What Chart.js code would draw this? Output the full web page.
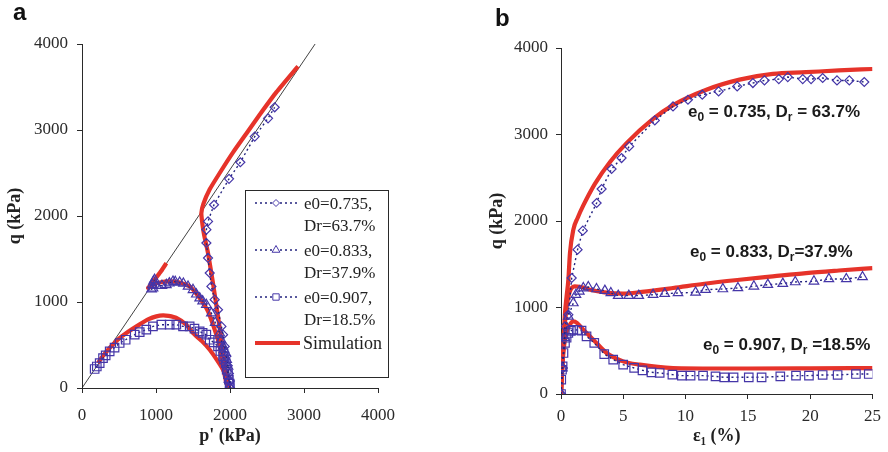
<!DOCTYPE html>
<html>
<head>
<meta charset="utf-8">
<script src="https://cdn.jsdelivr.net/npm/chart.js@4.4.1/dist/chart.umd.min.js"></script>
<style>
  body { margin: 0; background: #fff; }
  #page { position: relative; width: 888px; height: 452px; overflow: hidden; }
  canvas { position: absolute; top: 0; }
  #chartA { left: 0; }
  #chartB { left: 444px; }
</style>
</head>
<body>
<div id="page">
  <canvas id="chartA" width="444" height="452"></canvas>
  <canvas id="chartB" width="444" height="452"></canvas>
</div>
<script>
// ---- data, panel a: p' - q ----
const axisTicks = [0, 1000, 2000, 3000, 4000];
const strainTicks = [0, 5, 10, 15, 20, 25];
const seriesNames = ['e0=0.735,|Dr=63.7%', 'e0=0.833,|Dr=37.9%', 'e0=0.907,|Dr=18.5%', 'Simulation'];

const cslP = [0, 3150];
const cslQ = [0, 4000];

const denseObsP = [2000, 1998, 1985, 1970, 1950, 1928, 1906, 1884, 1838, 1793, 1749, 1726, 1703, 1681, 1681, 1703, 1784, 1987, 2140, 2334, 2514, 2604];
const denseObsQ = [0, 80, 170, 260, 368, 484, 620, 716, 910, 1027, 1181, 1337, 1512, 1686, 1841, 1937, 2131, 2432, 2625, 2923, 3136, 3264];
const mediumObsP = [1996, 1985, 1973, 1955, 1942, 1920, 1906, 1880, 1861, 1800, 1748, 1680, 1630, 1590, 1545, 1500, 1433, 1370, 1320, 1260, 1230, 1180, 1140, 1080, 1005, 960, 940, 950, 965, 980];
const mediumObsQ = [19, 100, 252, 330, 407, 450, 484, 560, 639, 760, 871, 968, 1010, 1045, 1090, 1142, 1181, 1215, 1227, 1235, 1239, 1220, 1200, 1190, 1189, 1160, 1150, 1200, 1240, 1260];
const looseObsP = [1996, 1996, 1985, 1973, 1955, 1942, 1920, 1906, 1870, 1838, 1780, 1725, 1680, 1630, 1590, 1520, 1455, 1365, 1275, 1185, 1072, 959, 869, 780, 712, 590, 509, 440, 374, 320, 284, 239, 200, 171];
const looseObsQ = [0, 50, 97, 160, 213, 290, 330, 368, 430, 484, 530, 561, 620, 640, 658, 690, 716, 716, 736, 736, 736, 716, 678, 650, 620, 561, 523, 470, 426, 380, 348, 290, 250, 221];

const denseSimP = [1990, 1951, 1897, 1838, 1770, 1703, 1650, 1628, 1613, 1640, 1726, 1861, 2041, 2222, 2403, 2627, 2919];
const denseSimQ = [0, 136, 484, 832, 1220, 1568, 1780, 1900, 2033, 2140, 2310, 2500, 2740, 2960, 3180, 3440, 3740];
const mediumSimP = [1985, 1951, 1906, 1861, 1793, 1703, 1590, 1455, 1320, 1185, 1050, 960, 893, 930, 1000, 1070, 1140];
const mediumSimQ = [0, 58, 252, 484, 678, 891, 1045, 1181, 1227, 1239, 1227, 1200, 1163, 1200, 1280, 1360, 1452];
const looseSimP = [1990, 1973, 1905, 1820, 1726, 1620, 1500, 1410, 1275, 1170, 1095, 1005, 900, 780, 600, 480, 374, 290, 216];
const looseSimQ = [0, 58, 213, 330, 445, 545, 640, 736, 814, 838, 845, 833, 800, 740, 640, 560, 465, 380, 291];

// ---- data, panel b: strain - q ----
const denseObsE = [0, 0.15, 0.32, 0.59, 0.86, 1.33, 1.75, 2.86, 3.26, 4.06, 4.86, 5.47, 7.53, 8.99, 10.19, 11.34, 12.65, 14.14, 15.4, 16.33, 17.48, 18.2, 19.4, 20.07, 21.0, 22.15, 23.14, 24.34];
const denseObsQb = [0, 300, 782, 917, 1341, 1669, 1888, 2208, 2370, 2601, 2728, 2862, 3163, 3325, 3402, 3460, 3498, 3556, 3595, 3625, 3641, 3664, 3641, 3641, 3653, 3625, 3625, 3607];
const mediumObsE = [0, 0.1, 0.3, 0.59, 0.99, 1.2, 1.47, 1.79, 2.19, 2.85, 3.52, 4.0, 4.59, 5.44, 6.24, 7.39, 8.32, 9.39, 10.8, 11.6, 12.99, 14.2, 15.48, 16.6, 17.8, 18.8, 20.3, 21.5, 22.9, 24.2];
const mediumObsQb = [0, 300, 650, 897, 1052, 1148, 1187, 1225, 1237, 1214, 1195, 1168, 1137, 1137, 1137, 1148, 1160, 1168, 1175, 1206, 1214, 1226, 1245, 1264, 1276, 1295, 1303, 1330, 1330, 1353];
const looseObsE = [0, 0.02, 0.08, 0.13, 0.2, 0.32, 0.45, 0.59, 0.8, 0.99, 1.3, 1.65, 2.05, 2.67, 3.47, 4.19, 4.99, 5.87, 6.54, 7.26, 7.92, 8.94, 9.7, 10.4, 11.4, 12.4, 13.1, 13.85, 15.07, 16.1, 17.6, 18.86, 19.9, 21.0, 22.2, 23.67, 24.7];
const looseObsQb = [0, 165, 280, 319, 474, 590, 650, 705, 730, 743, 740, 732, 667, 590, 462, 397, 339, 301, 274, 251, 243, 224, 212, 212, 212, 204, 193, 193, 193, 193, 204, 212, 212, 220, 220, 231, 231];

const denseSimE = [0, 0.08, 0.18, 0.32, 0.45, 0.59, 0.72, 0.99, 1.35, 1.79, 2.72, 3.92, 5.26, 7.39, 8.99, 11.67, 14.33, 17.0, 19.67, 22.3, 25];
const denseSimQb = [0, 250, 550, 936, 1130, 1321, 1630, 1900, 2040, 2180, 2430, 2680, 2900, 3180, 3340, 3518, 3634, 3700, 3720, 3741, 3757];
const mediumSimE = [0, 0.1, 0.25, 0.45, 0.7, 1.1, 1.5, 2.32, 3.5, 4.99, 6.5, 8.99, 11.5, 14.33, 17, 19.67, 22.3, 25];
const mediumSimQb = [0, 350, 700, 1000, 1180, 1245, 1240, 1206, 1175, 1160, 1180, 1225, 1275, 1321, 1360, 1398, 1428, 1456];
const looseSimE = [0, 0.1, 0.25, 0.45, 0.7, 1.0, 1.3, 1.79, 2.59, 3.66, 4.99, 6.32, 8.99, 12.46, 15, 20, 25];
const looseSimQb = [0, 300, 560, 720, 800, 840, 820, 744, 628, 474, 377, 339, 300, 295, 295, 297, 300];

// labels drawn inside panel b
const curveNotes = [
  {x: 688, y: 117, parts: [['e', 0], ['0', 1], [' = 0.735, D', 0], ['r', 1], [' = 63.7%', 0]]},
  {x: 690, y: 257, parts: [['e', 0], ['0', 1], [' = 0.833, D', 0], ['r', 1], ['=37.9%', 0]]},
  {x: 703, y: 350, parts: [['e', 0], ['0', 1], [' = 0.907, D', 0], ['r', 1], [' =18.5%', 0]]}
];

// ---- styling ----
const serif = "'Liberation Serif', 'Times New Roman', serif";
const sans = "'Liberation Sans', Arial, sans-serif";
const navy = '#23237f';
const markerCol = '#4536a8';
const red = '#e6332a';
const axisCol = '#2a2a2a';

Chart.defaults.font.family = serif;

function pts(xs, ys) {
    return xs.map((x, i) => ({x: x, y: ys[i]}));
}

function obsSet(label, xs, ys, style, r) {
    return {
        label: label,
        data: pts(xs, ys),
        showLine: true,
        borderColor: navy,
        borderWidth: 1.4,
        borderDash: [2, 3],
        pointStyle: style,
        pointRadius: r,
        pointBorderColor: markerCol,
        pointBackgroundColor: 'rgba(255,255,255,0)',
        pointBorderWidth: 1.2,
        order: 0
    };
}

function simSet(xs, ys, smooth) {
    let ds = {
        label: 'Simulation',
        data: pts(xs, ys),
        showLine: true,
        borderColor: red,
        borderWidth: 4.2,
        pointRadius: 0,
        tension: 0.15,
        order: 1
    };
    if (smooth) ds.cubicInterpolationMode = 'monotone';
    return ds;
}

function axes(o) {
    return {
        x: {
            type: 'linear', min: 0, max: o.xMax,
            afterBuildTicks: s => { s.ticks = o.xTicks.map(v => ({value: v})); },
            afterFit: s => { s.height = o.xH; },
            ticks: {font: {size: 17}, color: axisCol, padding: o.xPad, callback: v => String(v)},
            grid: {drawOnChartArea: false, tickLength: 5, color: axisCol},
            border: {color: axisCol, width: 1},
            title: {display: true, text: o.xTitle, color: '#222', font: {size: 18, weight: 'bold'}, padding: {top: 0, bottom: 5}}
        },
        y: {
            type: 'linear', min: 0, max: 4000,
            afterBuildTicks: s => { s.ticks = axisTicks.map(v => ({value: v})); },
            afterFit: s => { s.width = o.yW; },
            ticks: {font: {size: 17}, color: axisCol, padding: o.yPad, callback: v => String(v)},
            grid: {drawOnChartArea: false, tickLength: 5, color: axisCol},
            border: {color: axisCol, width: 1},
            title: {display: true, text: 'q (kPa)', color: '#222', font: {size: 18, weight: 'bold'}, padding: {top: o.yTitlePad, bottom: 0}}
        }
    };
}

// panel letter
const letterPlugin = {
    id: 'letter',
    afterDraw(chart, args, opts) {
        const ctx = chart.ctx;
        ctx.save();
        ctx.font = 'bold 24px ' + sans;
        ctx.fillStyle = '#111';
        ctx.textBaseline = 'alphabetic';
        ctx.fillText(opts.text, opts.x, opts.y);
        ctx.restore();
    }
};

// legend box of panel a
const legendBox = {
    id: 'legendBox',
    afterDraw(chart) {
        const ctx = chart.ctx;
        ctx.save();
        ctx.fillStyle = '#fff';
        ctx.fillRect(245.5, 190.5, 143, 187);
        ctx.strokeStyle = axisCol;
        ctx.lineWidth = 1;
        ctx.strokeRect(245.5, 190.5, 143, 187);
        const styles = ['rectRot', 'triangle', 'rect'];
        const radii = [3.5, 4.5, 4.5];
        const rows = [203, 250, 297];
        ctx.font = '17px ' + serif;
        ctx.textBaseline = 'alphabetic';
        for (let i = 0; i < 3; i++) {
            const y = rows[i];
            ctx.strokeStyle = navy;
            ctx.lineWidth = 1.5;
            ctx.setLineDash([2, 3]);
            ctx.beginPath();
            ctx.moveTo(255, y);
            ctx.lineTo(298, y);
            ctx.stroke();
            ctx.setLineDash([]);
            ctx.strokeStyle = markerCol;
            ctx.fillStyle = '#fff';
            ctx.lineWidth = 1;
            Chart.helpers.drawPoint(ctx, {pointStyle: styles[i], radius: radii[i], rotation: 0, borderWidth: 1}, 276, y);
            const lines = seriesNames[i].split('|');
            ctx.fillStyle = '#222';
            ctx.fillText(lines[0], 304, y + 6);
            ctx.fillText(lines[1], 304, y + 28);
        }
        ctx.strokeStyle = red;
        ctx.lineWidth = 4;
        ctx.beginPath();
        ctx.moveTo(255, 343);
        ctx.lineTo(300, 343);
        ctx.stroke();
        ctx.fillStyle = '#222';
        ctx.font = '18px ' + serif;
        ctx.fillText(seriesNames[3], 303, 349);
        ctx.restore();
    }
};

// curve labels of panel b
const notesPlugin = {
    id: 'notes',
    afterDraw(chart) {
        const ctx = chart.ctx;
        const off = chart.canvas.offsetLeft;
        ctx.save();
        ctx.fillStyle = '#1a1a1a';
        ctx.textBaseline = 'alphabetic';
        curveNotes.forEach(n => {
            let x = n.x - off;
            n.parts.forEach(p => {
                ctx.font = p[1] ? 'bold 12px ' + sans : 'bold 17px ' + sans;
                ctx.fillText(p[0], x, n.y + (p[1] ? 4 : 0));
                x += ctx.measureText(p[0]).width;
            });
        });
        ctx.restore();
    }
};

new Chart(document.getElementById('chartA'), {
    type: 'scatter',
    data: {
        datasets: [
            obsSet('dense', denseObsP, denseObsQ, 'rectRot', 4.5),
            obsSet('medium', mediumObsP, mediumObsQ, 'triangle', 5.5),
            obsSet('loose', looseObsP, looseObsQ, 'rect', 6),
            simSet(denseSimP, denseSimQ, false),
            simSet(mediumSimP, mediumSimQ, false),
            simSet(looseSimP, looseSimQ, false),
            {label: 'CSL', data: pts(cslP, cslQ), showLine: true, borderColor: '#111', borderWidth: 0.8, pointRadius: 0, order: 2}
        ]
    },
    options: {
        responsive: false,
        devicePixelRatio: 1,
        animation: false,
        layout: {padding: {left: 0, right: 66, top: 44, bottom: 0}},
        scales: axes({xMax: 4000, xTicks: axisTicks, xTitle: "p' (kPa)", xH: 64, yW: 82, xPad: 12, yPad: 9, yTitlePad: 5}),
        plugins: {
            legend: {display: false},
            tooltip: {enabled: false},
            letter: {text: 'a', x: 13, y: 20}
        }
    },
    plugins: [letterPlugin, legendBox]
});

new Chart(document.getElementById('chartB'), {
    type: 'scatter',
    data: {
        datasets: [
            obsSet('dense', denseObsE, denseObsQb, 'rectRot', 4.5),
            obsSet('medium', mediumObsE, mediumObsQb, 'triangle', 5.5),
            obsSet('loose', looseObsE, looseObsQb, 'rect', 6),
            simSet(denseSimE, denseSimQb, true),
            simSet(mediumSimE, mediumSimQb, true),
            simSet(looseSimE, looseSimQb, true)
        ]
    },
    options: {
        responsive: false,
        devicePixelRatio: 1,
        animation: false,
        layout: {padding: {left: 0, right: 15, top: 48, bottom: 0}},
        scales: axes({xMax: 25, xTicks: strainTicks, xTitle: 'ε\u2081 (%)', xH: 58, yW: 117, xPad: 7, yPad: 8, yTitlePad: 43}),
        plugins: {
            legend: {display: false},
            tooltip: {enabled: false},
            letter: {text: 'b', x: 51, y: 26}
        }
    },
    plugins: [letterPlugin, notesPlugin]
});
</script>
</body>
</html>
